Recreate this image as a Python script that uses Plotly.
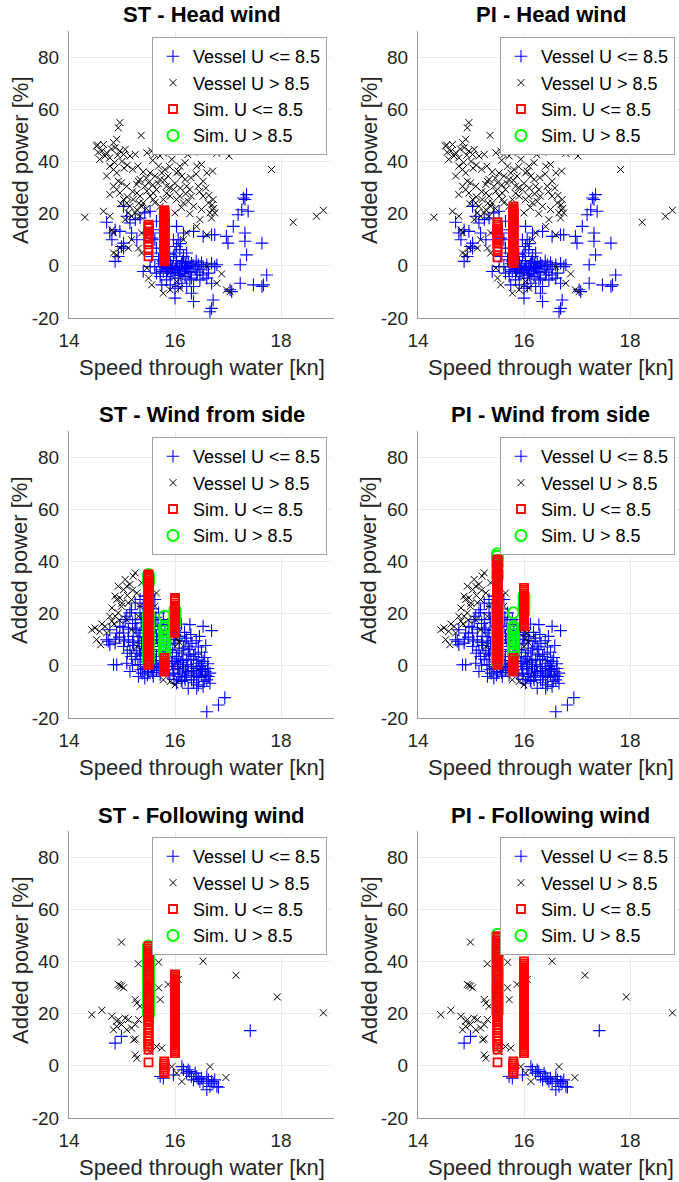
import plotly.graph_objects as go

# ---------------- data ----------------
# Vessel data, head wind (x: speed through water [kn], y: added power [%])
head_lo_pts = [
    (14.71, 16.7), (14.81, 10.0), (14.77, 12.6), (14.87, 13.8), (14.96, 13.2), (14.99, 7.4), (15.03, 8.7),
    (14.93, 3.6), (14.87, 1.7), (15.09, 19.0), (15.15, 16.4), (15.03, 22.8), (15.34, 18.3), (15.43, 20.3),
    (15.53, 20.9), (15.47, 12.6), (15.59, 13.8), (15.62, 10.0), (15.65, 6.8), (15.72, 4.9), (15.69, 2.3),
    (15.75, -0.3), (15.72, -1.5), (15.84, 0.4), (15.91, 1.0), (15.94, -1.5), (15.97, 3.6), (16.00, 4.9),
    (16.03, 7.4), (16.06, 10.0), (16.03, 15.1), (16.09, 6.2), (16.16, 3.6), (16.19, 1.0), (16.22, -0.3),
    (16.13, -1.5), (16.06, -3.5), (16.00, -4.7), (16.06, -7.9), (16.13, -6.7), (16.19, -4.1), (16.25, -2.2),
    (16.28, -0.3), (16.31, -4.7), (16.35, -7.9), (16.31, -10.5), (16.35, -13.7), (16.00, -12.4), (15.91, -2.8),
    (15.78, -2.2), (15.40, -2.2), (15.53, -0.3), (15.65, -2.8), (15.75, -7.3), (15.84, -5.4), (16.41, -3.5),
    (16.47, -1.5), (16.53, -0.3), (16.60, 0.4), (16.63, -2.8), (16.69, 1.0), (16.75, -0.3), (16.79, 0.4),
    (16.60, -4.7), (16.69, -6.7), (16.72, -13.1), (16.69, -16.3), (16.66, -17.6), (16.35, 13.2), (16.53, 11.3),
    (16.69, 11.9), (16.75, 11.9), (16.97, 11.3), (17.00, 8.7), (17.10, 15.1), (17.19, 19.6), (17.26, 21.5),
    (17.29, 26.0), (17.32, 25.4), (17.35, 27.3), (17.38, 20.9), (17.32, 12.6), (17.32, 9.4), (17.35, 4.2),
    (17.23, 0.4), (17.23, -6.7), (17.04, -9.2), (17.07, -9.9), (17.48, -7.3), (17.64, -7.9), (17.67, -7.3),
    (17.73, -3.5), (17.64, 8.7), (16.16, 12.6), (16.22, 4.9), (15.87, 7.4), (15.97, 10.0), (15.81, 3.6),
    (16.09, -0.3), (16.31, 1.0), (16.44, 0.4), (15.91, -7.3), (16.00, -8.6), (16.22, -7.9), (16.28, -5.4),
    (15.84, -4.1), (16.00, -1.5), (15.72, -4.1), (15.62, -0.3), (15.56, 3.6), (16.47, -5.4), (16.53, -3.5),
    (15.65, 17.1), (15.72, 12.6), (15.56, 10.6), (15.25, 17.7), (15.18, 12.6), (15.28, 10.0), (15.03, 6.8),
    (16.03, 2.0), (16.12, 0.8), (16.18, -1.0), (16.08, -2.0), (15.95, -0.5), (16.25, 1.5), (16.38, -1.2),
    (16.15, -3.0), (15.88, -1.0), (16.05, -0.8), (16.20, 0.2), (15.90, 4.5), (15.78, 1.8), (16.10, 8.5),
    (15.82, -0.6), (15.92, 0.2), (16.02, -0.2), (16.14, 1.6), (16.24, -0.8), (16.34, 0.2), (16.42, -2.4),
    (15.86, -2.0), (15.98, -2.6), (16.10, -3.6), (16.30, -2.6), (16.40, 1.8), (16.50, 1.2), (15.76, 0.8),
]
head_hi_pts = [
    (14.52, 45.9), (14.62, 44.0), (14.68, 42.1), (14.58, 40.8), (14.71, 43.3), (14.77, 41.4), (14.84, 47.2),
    (14.87, 45.3), (14.90, 48.5), (14.96, 44.0), (15.03, 42.7), (15.06, 44.6), (15.15, 42.1), (15.25, 42.7),
    (14.77, 38.2), (14.84, 36.9), (14.90, 35.6), (14.71, 34.4), (14.93, 32.4), (14.99, 31.8), (14.84, 30.5),
    (14.90, 29.2), (14.77, 27.3), (14.96, 27.9), (15.03, 25.4), (15.09, 24.1), (15.15, 22.8), (15.21, 25.4),
    (15.25, 20.3), (15.28, 21.5), (15.34, 26.7), (15.31, 32.4), (15.34, 33.1), (15.28, 31.2), (15.47, 43.3),
    (15.56, 44.0), (15.62, 42.7), (15.65, 44.0), (15.72, 42.1), (15.78, 43.3), (15.84, 45.3), (15.69, 38.2),
    (15.75, 35.6), (15.72, 33.1), (15.65, 29.2), (15.59, 27.9), (15.53, 26.7), (15.47, 28.6), (15.50, 31.8),
    (15.43, 30.5), (15.40, 24.1), (15.34, 19.0), (15.18, 19.0), (15.06, 17.7), (15.12, 20.3), (15.81, 36.9),
    (15.87, 34.4), (15.84, 30.5), (15.91, 26.7), (15.78, 25.4), (15.72, 22.8), (16.03, 35.6), (16.06, 36.3),
    (16.13, 34.4), (16.19, 33.1), (16.22, 30.5), (16.28, 29.2), (16.31, 26.7), (16.25, 24.7), (16.35, 22.8),
    (16.16, 24.1), (16.09, 26.7), (16.03, 25.4), (15.97, 29.2), (16.00, 20.3), (16.41, 38.2), (16.50, 38.8),
    (16.60, 35.6), (16.53, 32.4), (16.44, 30.5), (16.53, 26.7), (16.63, 24.1), (16.72, 25.4), (16.66, 20.3),
    (16.69, 18.3), (16.75, 20.3), (16.47, 17.7), (16.41, 15.1), (16.22, 12.6), (16.16, 10.0), (16.60, 11.9),
    (14.65, 20.9), (14.81, 13.8), (14.84, 4.9), (14.90, 4.2), (14.96, 6.8), (15.12, 6.8), (15.31, 6.8),
    (15.37, 4.9), (15.47, -0.9), (15.50, -4.7), (15.56, -7.3), (15.78, -10.5), (15.91, -9.2), (16.03, -6.0),
    (16.09, -8.6), (16.60, -0.3), (16.79, -6.7), (16.88, -3.1), (16.97, -9.2), (17.04, -9.9), (14.30, 18.6),
    (14.96, 54.9), (14.93, 52.9), (15.36, 50.0), (16.31, 48.7), (17.00, 47.6), (17.02, 42.1), (17.82, 36.9),
    (18.23, 16.7), (18.67, 19.0), (18.80, 21.3), (16.06, 45.9), (16.35, 43.6), (16.38, 44.0), (16.79, 43.1),
    (16.71, 36.3), (14.54, 46.3), (15.59, 25.4), (15.37, 22.8), (15.53, 35.6), (15.62, 34.4), (15.28, 27.9),
    (15.09, 30.5), (15.94, 40.8), (16.19, 39.5), (16.09, 38.2), (15.78, 20.3), (14.77, 19.0), (14.84, 12.6),
    (15.18, 10.0), (15.37, 12.6), (16.70, 21.5), (16.73, 22.0),
    (14.55, 43.5), (14.65, 46.5), (14.80, 44.8), (14.92, 42.4), (15.00, 40.0), (15.10, 38.6), (15.20, 37.0),
    (15.30, 38.2), (15.40, 36.0), (15.46, 33.6), (15.58, 31.0), (15.68, 31.6), (15.80, 32.8), (15.90, 30.0),
    (16.00, 31.6), (16.10, 29.8), (16.20, 27.6), (16.30, 33.8), (16.40, 35.2), (16.46, 28.4), (16.58, 29.8),
    (16.64, 27.0), (16.70, 23.4), (15.20, 28.4), (15.10, 26.4), (14.98, 23.8), (15.32, 24.0), (15.46, 22.0),
    (15.62, 24.2), (15.84, 27.8), (16.12, 22.4), (16.28, 20.0), (16.50, 21.6), (15.04, 37.4), (14.86, 39.6),
    (15.58, 40.4), (15.90, 38.0), (16.24, 42.6),
]

# Vessel data, wind from side
side_lo_pts = [
    (16.60, -17.6), (16.82, -15.0), (16.94, -12.2), (16.28, 15.8), (16.53, 15.1), (16.69, 13.5), (16.46, 11.3),
    (14.84, 0.4), (14.90, 0.4), (14.71, 10.0), (14.77, 8.1), (15.03, 7.4), (15.09, 1.0), (15.15, -2.2),
    (15.31, -4.1), (15.43, -4.7), (15.59, -4.1), (15.72, -3.5), (16.25, -8.6), (16.44, -7.3), (16.60, -5.4),
    (16.57, -2.2), (16.53, 1.7), (16.47, -0.3), (16.35, -2.8), (16.19, -5.4), (16.09, -2.8), (16.16, -0.3),
    (16.22, 2.3), (16.13, 4.9), (16.16, 6.8), (16.03, 3.6), (15.94, 1.0), (15.97, -1.5), (15.84, -0.3),
    (15.72, 1.0), (15.65, 3.6), (15.59, 6.2), (15.72, 7.4), (15.65, 11.3), (15.72, 13.8), (15.78, 17.7),
    (15.69, 20.3), (15.62, 25.4), (15.50, 26.7), (15.40, 22.8), (15.34, 20.3), (15.25, 17.7), (15.15, 20.3),
    (15.06, 17.7), (14.96, 15.1), (14.90, 12.6), (15.03, 12.6), (15.12, 10.0), (15.21, 11.3), (15.34, 12.6),
    (15.37, 8.7), (15.28, 4.9), (15.18, 3.6), (15.34, 2.3), (15.43, -0.3), (15.53, 2.3), (15.47, 4.9),
    (15.40, 7.4), (15.28, 13.8), (15.47, 15.1), (15.56, 17.7), (15.62, 15.1), (15.56, 10.0), (15.47, 19.0),
    (15.25, 24.1), (15.34, 25.4), (15.43, 26.7), (15.81, 13.8), (15.84, 10.0), (15.91, 6.2), (16.00, 8.7),
    (16.09, 11.3), (16.19, 9.4), (16.28, 6.2), (16.35, 3.6), (16.41, 1.0), (16.31, -0.3), (16.25, -2.2),
    (16.06, -4.1), (16.03, -6.7), (16.13, -6.0), (16.31, -5.4), (16.41, -4.1), (16.50, -3.5), (16.63, -4.1),
    (16.66, -6.7), (16.53, -7.9), (16.41, -8.6), (15.87, -2.8), (16.00, 1.7), (15.78, 3.6), (15.59, -0.3),
    (15.50, -2.2), (14.74, 9.4), (14.87, 8.7), (14.77, 13.8), (15.09, 19.0), (15.18, 21.5), (15.35, -1.5),
    (15.45, 1.5), (15.55, -1.2), (15.62, 0.8), (15.80, -1.5), (15.90, -3.8), (16.05, -1.0), (16.10, 1.2),
    (16.20, -2.0), (16.30, 2.5), (16.40, -1.0), (16.45, -4.5), (16.55, -6.0), (16.50, 0.0), (16.38, 4.5),
    (16.25, 7.5), (16.15, 2.0), (15.95, 5.0), (15.85, 8.0), (15.70, 5.5), (15.55, 4.5), (15.40, 3.8),
    (15.50, 8.0), (15.45, 11.0), (15.38, 16.5), (15.30, 9.5), (15.15, 6.0), (15.05, 9.5), (14.95, 11.0),
    (15.60, 12.5), (15.68, 16.0), (15.75, 9.0), (15.92, 11.5), (16.02, 14.5), (16.12, 16.0), (16.18, 12.8),
    (15.50, 22.0), (15.55, 18.5), (15.25, 14.5), (15.12, 14.0), (15.22, 7.8), (15.33, 5.8), (15.65, -1.8),
    (15.82, 5.2), (16.08, 5.8), (16.22, -3.6), (16.35, -6.5), (16.48, -2.0), (15.98, -3.2), (15.42, 9.8),
    (15.30, 0.5), (15.38, -2.8), (15.48, -3.5), (15.58, -2.6), (15.68, -0.8), (15.76, 0.4), (15.86, 1.8),
    (15.96, -0.2), (16.06, 0.6), (16.14, -1.2), (16.24, 0.4), (16.34, -1.8), (16.44, 2.2), (16.52, -1.4),
    (16.58, -3.6), (16.62, -1.0), (16.36, -3.8), (16.18, -4.4), (15.98, -5.2), (16.12, -5.6), (15.25, 2.5),
    (15.35, 4.5), (15.45, 6.5), (15.58, 8.5), (15.68, 9.8), (15.78, 11.8), (15.88, 12.8), (15.98, 10.2),
    (16.08, 9.6), (16.22, 10.6), (16.32, 8.6), (16.44, 7.2), (16.50, 5.2), (16.56, 3.2), (16.26, 4.2),
    (16.06, 2.6), (15.88, 3.0), (15.62, 2.0), (15.42, -1.0), (15.20, 0.2), (15.10, 4.8), (15.20, 9.0),
    (15.32, 11.2), (15.42, 13.6), (15.52, 13.0), (15.64, 18.6), (15.58, 21.8), (15.46, 24.0), (15.36, 17.8),
    (15.20, 16.2), (15.02, 14.8), (14.88, 10.2), (15.74, 15.2), (15.86, 15.8), (16.00, 12.0), (16.30, 12.0),
    (16.40, 9.6), (16.58, 7.8), (16.62, 0.8), (16.66, -2.8),
]
side_hi_pts = [
    (15.25, 35.6), (15.21, 34.4), (15.09, 30.5), (15.15, 31.2), (15.03, 29.2), (14.93, 30.5), (14.87, 26.7),
    (14.90, 25.4), (14.96, 26.0), (14.81, 22.2), (14.77, 19.0), (14.87, 19.0), (14.93, 20.3), (14.81, 17.1),
    (14.68, 15.1), (14.49, 14.5), (14.43, 13.8), (14.58, 13.2), (14.52, 10.0), (14.60, 8.1), (14.71, 12.6),
    (15.12, 24.1), (15.28, 27.9), (15.18, 25.4), (15.34, 22.8), (15.31, 19.0), (15.09, 17.7), (15.18, 13.8),
    (15.28, 7.4), (15.65, 27.9), (15.62, 22.8), (16.03, 10.6), (16.06, 12.6), (15.97, 13.8), (16.00, 7.4),
    (15.78, -5.4), (16.00, -7.3), (15.91, -6.0), (14.99, 22.8), (15.06, 33.1), (15.37, 31.8), (15.00, 24.0),
    (14.85, 16.0), (14.95, 17.5), (15.20, 29.0), (15.10, 27.0), (16.08, 9.0), (14.62, 16.0),
]

# Vessel data, following wind
fol_lo_pts = [
    (14.87, 8.7), (14.99, 11.3), (17.42, 13.5), (15.72, -4.1), (15.78, -4.7), (15.97, -3.5), (16.13, -0.3),
    (16.16, -1.5), (16.22, -2.8), (16.31, -4.1), (16.35, -5.4), (16.41, -4.1), (16.47, -6.0), (16.53, -6.7),
    (16.60, -4.1), (16.63, -5.4), (16.66, -7.9), (16.72, -6.7), (16.79, -7.9), (16.82, -8.2), (16.25, -1.5),
    (16.38, -2.8), (16.50, -4.7), (16.69, -6.0), (16.60, -9.2), (16.75, -5.4), (16.28, -2.2), (16.44, -5.0),
]
fol_hi_pts = [
    (14.99, 47.4), (15.31, 39.1), (15.69, 39.7), (15.91, 45.9), (15.97, 47.8), (15.94, 45.3), (16.53, 40.1),
    (17.15, 34.7), (17.93, 26.4), (18.80, 20.3), (14.93, 31.2), (14.99, 30.5), (15.03, 29.9), (15.25, 25.4),
    (15.28, 24.1), (15.34, 22.8), (15.69, 29.9), (15.72, 25.4), (15.87, 31.2), (16.06, 33.1), (14.43, 19.6),
    (14.62, 21.3), (14.81, 19.0), (14.90, 17.1), (14.99, 15.8), (14.93, 17.7), (15.06, 18.3), (15.12, 17.7),
    (15.18, 14.5), (15.25, 15.8), (15.31, 17.7), (15.09, 13.8), (15.25, 10.3), (15.25, 4.2), (15.28, 2.9),
    (15.53, 8.1), (15.65, 7.4), (15.75, 6.8), (15.94, -0.3), (16.03, -2.8), (16.13, -6.0), (16.66, -0.3),
    (16.96, -4.5), (14.84, 13.8), (14.90, 15.1), (15.53, 5.5), (15.22, 10.0), (14.96, 30.8),
]

# Simulations (x = speed [kn]; listed y values = added power [%])
st_head_lo_155 = [3.6, 6.0, 8.2, 9.1, 10.3, 11.0, 12.4, 13.2, 14.5, 15.1, 15.8]
st_head_lo_158 = [1.7, 2.3, 2.8, 3.4, 3.9, 4.5, 5.1, 5.6, 6.2, 6.7, 7.3, 7.9, 8.4, 9.0, 9.5, 10.1, 10.7, 11.2,
                  11.8, 12.3, 12.9, 13.5, 14.0, 14.6, 15.1, 15.7, 16.3, 16.8, 17.4, 17.9, 18.5, 19.1, 19.6,
                  20.2, 20.7, 21.3]
pi_head_lo_155 = [3.2, 5.6, 7.2, 8.5, 9.6, 10.7, 11.5, 12.6, 13.4, 14.3, 15.1, 15.9, 16.7]
pi_head_lo_158 = [1.0, 1.6, 2.2, 2.8, 3.4, 4.0, 4.6, 5.2, 5.8, 6.4, 7.0, 7.6, 8.2, 8.8, 9.4, 10.0, 10.6, 11.2,
                  11.8, 12.4, 13.0, 13.6, 14.2, 14.8, 15.4, 16.0, 16.6, 17.2, 17.8, 18.4, 19.0, 19.6, 20.2,
                  20.8, 21.4, 22.0, 22.8]

st_side_lo_155 = [0.4, 1.1, 1.8, 2.5, 3.2, 3.9, 4.6, 5.3, 6.0, 6.7, 7.4, 8.1, 8.8, 9.5, 10.2, 10.9, 11.6, 12.3,
                  13.0, 13.7, 14.4, 15.1, 15.8, 16.5, 17.2, 17.9, 18.6, 19.3, 20.0, 20.7, 21.4, 22.1, 22.8,
                  23.5, 24.2, 24.9, 25.6, 26.3, 27.0, 27.7, 28.4, 29.1, 29.8, 30.5, 31.2, 31.9, 32.6, 33.3,
                  34.0, 34.6, 35.0]
st_side_lo_158 = [-2.2, -1.5, -0.8, -0.1, 0.6, 1.3, 2.1, 3.0]
st_side_lo_160 = [12.6, 13.3, 14.0, 14.7, 15.4, 16.1, 16.8, 17.5, 18.2, 18.9, 19.6, 20.3, 21.0, 21.7, 22.4,
                  23.1, 23.8, 24.7, 25.3, 26.0]
st_side_hi_155 = [1.5, 2.8, 4.3, 5.9, 7.4, 9.0, 10.5, 12.0, 13.6, 15.2, 16.9, 18.4, 20.0, 31.5, 33.0, 34.2, 35.0]
st_side_hi_158 = [4.2, 5.5, 6.8, 8.0, 9.3, 10.6, 11.9, 13.2, 14.5, 15.1, 19.0]
st_side_hi_160 = [16.4, 17.8, 19.2, 20.6, 21.5]

pi_side_lo_155 = [0.4, 1.1, 1.8, 2.5, 3.2, 3.9, 4.6, 5.3, 6.0, 6.7, 7.4, 8.1, 8.8, 9.5, 10.2, 10.9, 11.6, 12.3,
                  13.0, 13.7, 14.4, 15.1, 15.8, 16.5, 17.2, 17.9, 18.6, 19.3, 20.0, 20.7, 21.4, 22.1, 22.8,
                  23.5, 24.2, 24.9, 25.6, 26.3, 27.0, 27.7, 28.4, 29.1, 29.8, 30.5, 31.2, 31.9, 32.6, 33.3,
                  34.0, 34.7, 35.4, 36.1, 36.8, 37.5, 38.2, 38.9, 39.6, 40.2, 40.8]
pi_side_lo_158 = [-2.2, -1.5, -0.8, -0.1, 0.6, 1.3, 2.1, 3.0]
pi_side_lo_160 = [15.1, 15.8, 16.5, 17.2, 17.9, 18.6, 19.3, 20.0, 20.7, 21.4, 22.1, 22.8, 23.5, 24.2, 24.9,
                  25.6, 26.3, 27.0, 27.7, 28.4, 29.1, 29.9]
pi_side_hi_155 = [1.0, 2.6, 4.2, 5.8, 7.4, 9.0, 10.6, 12.2, 13.8, 16.4, 18.0, 19.6, 21.2, 22.8, 34.0, 36.0,
                  38.5, 40.5, 42.0, 43.0]
pi_side_hi_158 = [4.9, 6.1, 7.3, 8.5, 9.7, 10.9, 12.1, 13.3, 14.5, 15.1, 20.3]
pi_side_hi_160 = [20.3, 21.6, 22.9, 24.2, 25.5, 26.7]

st_fol_lo_155 = [1.3, 6.2, 7.4, 8.3, 9.5, 10.4, 11.6, 12.5, 13.7, 14.6, 15.8, 16.7, 17.6, 18.5, 19.4, 20.2,
                 21.0, 21.8, 22.6, 23.4, 24.2, 25.0, 25.8, 26.6, 27.4, 28.2, 29.0, 29.8, 30.6, 31.4, 32.2,
                 33.0, 33.8, 34.6, 35.4, 36.2, 37.0, 37.8, 38.6, 39.4, 40.2, 41.0, 41.8, 42.6, 43.4, 44.2,
                 45.0, 45.9]
st_fol_lo_158 = [-2.8, -2.1, -1.4, -0.6, 0.2, 0.9, 1.7]
st_fol_lo_160 = [4.9, 5.6, 6.3, 7.0, 7.7, 8.4, 9.1, 9.8, 10.5, 11.2, 11.9, 12.6, 13.3, 14.0, 14.7, 15.4, 16.1,
                 16.8, 17.5, 18.2, 18.9, 19.6, 20.3, 21.0, 21.7, 22.4, 23.1, 23.8, 24.5, 25.2, 25.9, 26.6,
                 27.3, 28.0, 28.7, 29.4, 30.1, 30.8, 31.5, 32.2, 32.9, 33.6, 34.3, 35.0]
st_fol_hi_155 = [19.6, 20.9, 22.1, 23.4, 24.6, 25.9, 27.1, 28.4, 29.6, 30.9, 32.1, 33.4, 34.6, 35.9, 37.1,
                 38.4, 39.6, 40.9, 42.1, 43.4, 44.6, 45.9]

pi_fol_lo_155 = [1.3, 6.2, 7.4, 8.3, 9.5, 10.4, 11.6, 12.5, 13.7, 14.6, 15.8, 16.7, 17.6, 18.5, 19.4, 20.2,
                 21.0, 21.8, 22.6, 23.4, 24.2, 25.0, 25.8, 26.6, 27.4, 28.2, 29.0, 29.8, 30.6, 31.4, 32.2,
                 33.0, 33.8, 34.6, 35.4, 36.2, 37.0, 37.8, 38.6, 39.4, 40.2, 41.0, 41.8, 42.6, 43.4, 44.2,
                 45.0, 45.8, 46.6, 47.4, 48.2, 49.0, 49.7]
pi_fol_lo_158 = [-2.8, -2.1, -1.4, -0.6, 0.2, 0.9, 1.7]
pi_fol_lo_160 = [4.9, 5.6, 6.3, 7.0, 7.7, 8.4, 9.1, 9.8, 10.5, 11.2, 11.9, 12.6, 13.3, 14.0, 14.7, 15.4, 16.1,
                 16.8, 17.5, 18.2, 18.9, 19.6, 20.3, 21.0, 21.7, 22.4, 23.1, 23.8, 24.5, 25.2, 25.9, 26.6,
                 27.3, 28.0, 28.7, 29.4, 30.1, 30.8, 31.5, 32.2, 32.9, 33.6, 34.3, 35.0, 35.7, 36.4, 37.1,
                 37.8, 38.5, 39.2, 40.0]
pi_fol_hi_155 = [20.3, 21.6, 22.9, 24.2, 25.5, 26.8, 28.1, 29.4, 30.7, 32.0, 33.3, 34.6, 35.9, 37.2, 38.5,
                 39.8, 41.1, 42.4, 43.7, 45.0, 46.3, 47.6, 48.9, 50.4]

titles = ["ST - Head wind", "PI - Head wind", "ST - Wind from side", "PI - Wind from side",
          "ST - Following wind", "PI - Following wind"]
legend_names = ["Vessel U <= 8.5", "Vessel U > 8.5", "Sim. U <= 8.5", "Sim. U > 8.5"]
x_ticks = [14, 16, 18]
y_ticks = [-20, 0, 20, 40, 60, 80]
y_tick_text = ["-20", "0", "20", "40", "60", "80"]
x_label = "Speed through water [kn]"
y_label = "Added power [%]"

panels = [
    dict(lo=head_lo_pts, hi=head_hi_pts, slo=[(15.5, st_head_lo_155), (15.8, st_head_lo_158)], shi=[]),
    dict(lo=head_lo_pts, hi=head_hi_pts, slo=[(15.5, pi_head_lo_155), (15.8, pi_head_lo_158)], shi=[]),
    dict(lo=side_lo_pts, hi=side_hi_pts,
         slo=[(15.5, st_side_lo_155), (15.8, st_side_lo_158), (16.0, st_side_lo_160)],
         shi=[(15.5, st_side_hi_155), (15.8, st_side_hi_158), (16.0, st_side_hi_160)]),
    dict(lo=side_lo_pts, hi=side_hi_pts,
         slo=[(15.5, pi_side_lo_155), (15.8, pi_side_lo_158), (16.0, pi_side_lo_160)],
         shi=[(15.5, pi_side_hi_155), (15.8, pi_side_hi_158), (16.0, pi_side_hi_160)]),
    dict(lo=fol_lo_pts, hi=fol_hi_pts,
         slo=[(15.5, st_fol_lo_155), (15.8, st_fol_lo_158), (16.0, st_fol_lo_160)],
         shi=[(15.5, st_fol_hi_155)]),
    dict(lo=fol_lo_pts, hi=fol_hi_pts,
         slo=[(15.5, pi_fol_lo_155), (15.8, pi_fol_lo_158), (16.0, pi_fol_lo_160)],
         shi=[(15.5, pi_fol_hi_155)]),
]

# ---------------- layout geometry (pixels) ----------------
W, H = 679, 1182
FONT = "Liberation Sans, Arial, Helvetica, sans-serif"
col_px = [(69, 334), (418, 679)]
row_px = [(31, 318), (431, 718), (831, 1118)]
px_per_kn = 53.0


def flat(groups):
    xs, ys = [], []
    for xv, yl in groups:
        for yv in yl:
            xs.append(xv)
            ys.append(yv)
    return xs, ys


fig = go.Figure()
layout = dict(
    width=W, height=H, margin=dict(l=0, r=0, t=0, b=0, autoexpand=False),
    paper_bgcolor="white", plot_bgcolor="white",
    font=dict(family=FONT, color="#262626"),
    annotations=[],
)

for i, p in enumerate(panels):
    r, c = divmod(i, 2)
    sfx = "" if i == 0 else str(i + 1)
    xa, ya = "x" + sfx, "y" + sfx
    lg = "legend" if i == 0 else "legend" + str(i + 1)
    x0, x1 = col_px[c]
    y0, y1 = row_px[r]
    xmax = 14 + (x1 - x0) / px_per_kn

    lx, ly = zip(*p["lo"])
    hx, hy = zip(*p["hi"])
    fig.add_trace(go.Scatter(x=list(lx), y=list(ly), mode="markers", name=legend_names[0],
                             xaxis=xa, yaxis=ya, legend=lg, legendrank=1,
                             marker=dict(symbol="cross-thin-open", size=9, color="#0000ff",
                                         line=dict(width=1.1, color="#0000ff"))))
    fig.add_trace(go.Scatter(x=list(hx), y=list(hy), mode="markers", name=legend_names[1],
                             xaxis=xa, yaxis=ya, legend=lg, legendrank=2,
                             marker=dict(symbol="x-thin-open", size=7, color="#000000",
                                         line=dict(width=1.0, color="#000000"))))
    gx, gy = flat(p["shi"])
    if not gx:
        gx, gy = [None], [None]
    fig.add_trace(go.Scatter(x=gx, y=gy, mode="markers", name=legend_names[3],
                             xaxis=xa, yaxis=ya, legend=lg, legendrank=4,
                             marker=dict(symbol="circle-open", size=11, color="#00ff00",
                                         line=dict(width=2.0, color="#00ff00"))))
    sx, sy = flat(p["slo"])
    fig.add_trace(go.Scatter(x=sx, y=sy, mode="markers", name=legend_names[2],
                             xaxis=xa, yaxis=ya, legend=lg, legendrank=3,
                             marker=dict(symbol="square-open", size=8, color="#ff0000",
                                         line=dict(width=1.8, color="#ff0000"))))

    xkey = "xaxis" + sfx
    ykey = "yaxis" + sfx
    layout[xkey] = dict(domain=[x0 / W, x1 / W], range=[14, xmax], anchor=ya,
                        tickvals=x_ticks, ticktext=[str(t) for t in x_ticks],
                        showgrid=True, gridcolor="#ebebeb", gridwidth=1, zeroline=False,
                        showline=True, linecolor="#9a9a9a", linewidth=1, ticks="",
                        tickfont=dict(size=19, color="#262626", family=FONT), ticklabelstandoff=5)
    layout[ykey] = dict(domain=[1 - y1 / H, 1 - y0 / H], range=[-20, 90], anchor=xa,
                        tickvals=y_ticks, ticktext=y_tick_text,
                        showgrid=True, gridcolor="#ebebeb", gridwidth=1, zeroline=False,
                        showline=True, linecolor="#9a9a9a", linewidth=1, ticks="",
                        tickfont=dict(size=19, color="#262626", family=FONT), ticklabelstandoff=5)
    lx0 = 152 if c == 0 else 500
    layout[lg] = dict(x=lx0 / W, y=1 - (y0 + 6) / H, xanchor="left", yanchor="top",
                      bgcolor="white", bordercolor="#a0a0a0", borderwidth=1,
                      font=dict(size=18, family=FONT, color="#000000"),
                      itemwidth=30, tracegroupgap=0, traceorder="normal")

    cx = (x0 + (x0 + 265)) / 2
    layout["annotations"].append(dict(text="<b>" + titles[i] + "</b>", x=cx / W, y=1 - (y0 - 16) / H,
                                      xref="paper", yref="paper", showarrow=False,
                                      font=dict(size=22, color="#000000", family=FONT),
                                      xanchor="center", yanchor="middle"))
    layout["annotations"].append(dict(text=x_label, x=(x0 + 133) / W, y=1 - (y1 + 49) / H,
                                      xref="paper", yref="paper", showarrow=False,
                                      font=dict(size=22, color="#262626", family=FONT),
                                      xanchor="center", yanchor="middle"))
    ylx = 20 if c == 0 else 369
    layout["annotations"].append(dict(text=y_label, x=ylx / W, y=1 - (y0 + 129) / H,
                                      xref="paper", yref="paper", showarrow=False, textangle=-90,
                                      font=dict(size=22, color="#262626", family=FONT),
                                      xanchor="center", yanchor="middle"))

fig.update_layout(**layout)
fig.write_html("out.html", config={"displayModeBar": False},
               post_script="document.body.style.margin='0';document.body.style.overflow='hidden';")
